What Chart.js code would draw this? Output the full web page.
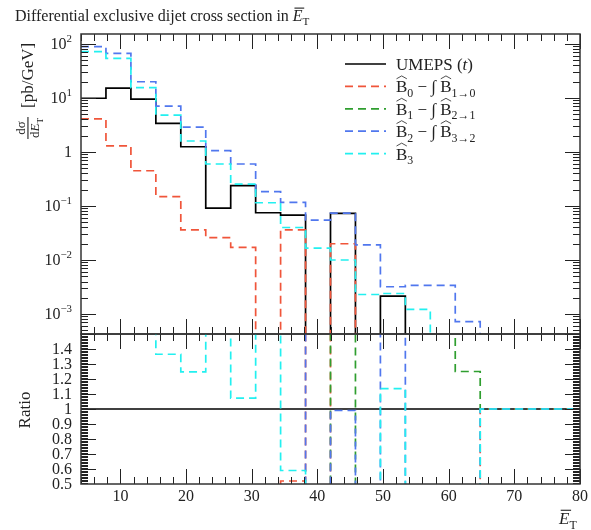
<!DOCTYPE html>
<html>
<head>
<meta charset="utf-8">
<script src="https://cdn.jsdelivr.net/npm/chart.js@4.4.1/dist/chart.umd.min.js"></script>
<style>
  html, body { margin: 0; padding: 0; background: #fff; }
  #wrap { position: relative; width: 591px; height: 530px; }
  #wrap canvas { position: absolute; left: 0; top: 0; }
</style>
</head>
<body>
<div id="wrap">
  <canvas id="main" width="591" height="530"></canvas>
  <canvas id="ratio" width="591" height="530"></canvas>
</div>
<script>
// bin edges in E_T (GeV)
const binEdges = [4, 7.8, 11.6, 15.4, 19.2, 23, 26.8, 30.6, 34.4, 38.2, 42,
                  45.8, 49.6, 53.4, 57.2, 61, 64.8, 68.6, 72.4, 76.2, 80];

// dsigma/dE_T [pb/GeV], one value per bin (0 = empty bin)
const umeps = [9.9, 15.2, 9.5, 3.4, 1.25, 0.091, 0.238, 0.075, 0.068, 0,
               0.073, 0, 0.00215, 0, 0, 0, 0, 0, 0, 0];
const b0 = [4.1, 1.3, 0.45, 0.149, 0.036, 0.026, 0.0172, 0, 0.036, 0,
            0.020, 0, 0, 0, 0, 0, 0, 0, 0, 0];
const b1 = [0, 0, 0, 0, 0, 0, 0, 0, 0, 0, 0, 0, 0, 0, 0, 0, 0, 0, 0, 0];
const b2 = [89, 67, 20, 7.1, 2.9, 1.06, 0.6, 0.184, 0.117, 0.055,
            0.074, 0.019, 0.0032, 0.0034, 0.0034, 0.00072, 0, 0, 0, 0];
const b3 = [72, 54, 15.5, 4.8, 1.6, 0.6, 0.255, 0.115, 0.040, 0.0166,
            0.010, 0.0023, 0.0024, 0.00122, 0, 0, 0, 0, 0, 0];

// ratio panel (2 = above the panel, 0 = below it)
const ratioUmeps = [1, 1, 1, 1, 1, 1, 1, 1, 1, 1, 1, 1, 1, 1, 1, 1, 1, 1, 1, 1];
const ratioB0 = [0, 0, 0, 0, 0, 0, 0, 0, 0.52, 2, 0, 0, 0, 0, 0, 0, 1, 1, 1, 1];
const ratioB1 = [0, 0, 0, 0, 0, 0, 0, 0, 0, 0, 2, 0, null, null, 2, 1.25, 1, 1, 1, 1];
const ratioB2 = [2, 2, 2, 2, 2, 2, 2, 2, 2, 0, 0.99, 0, 2, 0, 0, 0, 1, 1, 1, 1];
const ratioB3 = [2, 2, 2, 1.365, 1.247, 2, 1.073, 2, 0.59, 0, 0, 0, 1.136, 0, 0, 0, 1, 1, 1, 1];

const xTickLabels = [10, 20, 30, 40, 50, 60, 70, 80];
const ratioTickLabels = [0.5, 0.6, 0.7, 0.8, 0.9, 1, 1.1, 1.2, 1.3, 1.4];
const seriesLabels = ['UMEPS (t)', 'B̂0 − ∫ B̂1→0', 'B̂1 − ∫ B̂2→1', 'B̂2 − ∫ B̂3→2', 'B̂3'];

const SERIF = '"Liberation Serif", "DejaVu Serif", serif';
const INK = '#222';
const RED = '#f0553a';
const GREEN = '#2f9e2f';
const BLUE = '#5077ee';
const CYAN = '#22f0f0';
const DASH = [8, 5];

const Y_MAX = Math.pow(10, 2.185);
const Y_MIN = Math.pow(10, -3.37);

function hist(values, floor) {
  const pts = values.map((v, i) => ({ x: binEdges[i], y: v === null ? null : (v > 0 ? v : floor) }));
  pts.push({ x: binEdges[binEdges.length - 1], y: pts[pts.length - 1].y });
  return pts;
}

function ds(label, values, color, dash, order, floor) {
  return {
    label: label,
    data: hist(values, floor),
    borderColor: color,
    borderWidth: 1.7,
    borderDash: dash,
    stepped: 'before',
    pointRadius: 0,
    fill: false,
    spanGaps: false,
    clip: 0,
    order: order
  };
}

function fontOf(size, italic) {
  return (italic ? 'italic ' : '') + size + 'px ' + SERIF;
}

// draws a list of text runs (sub/superscripts, hats, bars) and returns end x
function drawRuns(ctx, x, y, runs, base, measureOnly) {
  for (const r of runs) {
    const size = r.sub ? base * 0.7 : (r.sup ? base * 0.68 : base);
    const dy = r.sub ? base * 0.27 : (r.sup ? -base * 0.42 : 0);
    ctx.font = fontOf(size, r.italic);
    const w = ctx.measureText(r.t).width;
    if (!measureOnly) {
      ctx.fillText(r.t, x, y + dy);
      if (r.hat) {
        const t = y - base * 0.8;
        ctx.beginPath();
        ctx.moveTo(x + 0.5, t);
        ctx.lineTo(x + w / 2, t - base * 0.17);
        ctx.lineTo(x + w - 0.5, t);
        ctx.lineWidth = 0.8;
        ctx.strokeStyle = ctx.fillStyle;
        ctx.stroke();
      }
      if (r.bar) {
        ctx.fillRect(x + base * 0.1, y - base * 0.84, w, 1.1);
      }
    }
    x += w;
  }
  return x;
}

const Ebar = [{ t: 'E', italic: true, bar: true }, { t: 'T', sub: true }];

const frameTicks = {
  id: 'frameTicks',
  afterDatasetsDraw(chart, args, opts) {
    const { ctx, chartArea: a, scales } = chart;
    const xs = scales.x, ys = scales.y;
    ctx.save();
    ctx.strokeStyle = INK;
    ctx.lineWidth = 1;
    const seg = (x1, y1, x2, y2) => { ctx.beginPath(); ctx.moveTo(x1, y1); ctx.lineTo(x2, y2); ctx.stroke(); };
    for (let v = 4; v <= 80; v += 2) {
      const len = v % 10 === 0 ? 15 : 7;
      const px = Math.round(xs.getPixelForValue(v)) + 0.5;
      seg(px, a.top, px, a.top + len);
      seg(px, a.bottom, px, a.bottom - len);
    }
    opts.yTicks.forEach(([v, len]) => {
      const py = Math.round(ys.getPixelForValue(v)) + 0.5;
      if (py < a.top || py > a.bottom) return;
      seg(a.left, py, a.left + len, py);
      seg(a.right, py, a.right - len, py);
    });
    ctx.lineWidth = 1.5;
    ctx.strokeStyle = '#333';
    ctx.strokeRect(a.left, a.top, a.right - a.left, a.bottom - a.top);
    ctx.restore();
  }
};

// main-panel texts: title, y axis, legend
const mainText = {
  id: 'mainText',
  afterDraw(chart) {
    const { ctx, chartArea: a, scales } = chart;
    const ys = scales.y;
    ctx.save();
    ctx.fillStyle = INK;
    ctx.textBaseline = 'alphabetic';
    ctx.textAlign = 'left';

    // title
    drawRuns(ctx, 15, 21, [{ t: 'Differential exclusive dijet cross section in ' }].concat(Ebar), 16);

    // y tick labels (powers of ten)
    for (let k = -3; k <= 2; k++) {
      const py = ys.getPixelForValue(Math.pow(10, k));
      const runs = k === 0 ? [{ t: '1' }] : [{ t: '10' }, { t: k < 0 ? '\u2212' + (-k) : String(k), sup: true }];
      const w = drawRuns(ctx, 0, 0, runs, 16, true);
      drawRuns(ctx, 72 - w, py + 5, runs, 16);
    }

    // y axis title, rotated
    ctx.save();
    ctx.translate(28, 139);
    ctx.rotate(-Math.PI / 2);
    ctx.textAlign = 'center';
    ctx.font = fontOf(13, false);
    ctx.fillText('d\u03c3', 11, -3);
    ctx.fillRect(0, -0.6, 22, 1.1);
    ctx.textAlign = 'left';
    drawRuns(ctx, 1, 11, [{ t: 'd' }, { t: 'E', italic: true }, { t: 'T', sub: true }], 13);
    ctx.font = fontOf(17, false);
    ctx.fillText('[pb/GeV]', 31, 5);
    ctx.restore();

    // legend
    const rows = [
      { color: '#000', dash: [], runs: [{ t: 'UMEPS (' }, { t: 't', italic: true }, { t: ')' }] },
      { color: RED, dash: DASH, runs: [{ t: 'B', hat: true }, { t: '0', sub: true }, { t: ' \u2212 \u222b ' }, { t: 'B', hat: true }, { t: '1\u21920', sub: true }] },
      { color: GREEN, dash: DASH, runs: [{ t: 'B', hat: true }, { t: '1', sub: true }, { t: ' \u2212 \u222b ' }, { t: 'B', hat: true }, { t: '2\u21921', sub: true }] },
      { color: BLUE, dash: DASH, runs: [{ t: 'B', hat: true }, { t: '2', sub: true }, { t: ' \u2212 \u222b ' }, { t: 'B', hat: true }, { t: '3\u21922', sub: true }] },
      { color: CYAN, dash: DASH, runs: [{ t: 'B', hat: true }, { t: '3', sub: true }] }
    ];
    rows.forEach((r, i) => {
      const y = 64 + i * 22.4;
      ctx.beginPath();
      ctx.moveTo(345, y);
      ctx.lineTo(386, y);
      ctx.strokeStyle = r.color;
      ctx.lineWidth = 1.7;
      ctx.setLineDash(r.dash);
      ctx.stroke();
      ctx.setLineDash([]);
      ctx.fillStyle = INK;
      drawRuns(ctx, 396, y + 6, r.runs, 17);
    });
    ctx.restore();
  }
};

const ratioText = {
  id: 'ratioText',
  afterDraw(chart) {
    const { ctx, chartArea: a, scales } = chart;
    ctx.save();
    ctx.fillStyle = INK;
    ctx.font = fontOf(16, false);
    ctx.textAlign = 'right';
    ctx.textBaseline = 'middle';
    ratioTickLabels.forEach(v => {
      ctx.fillText(String(v), 72, scales.y.getPixelForValue(v) + 1);
    });
    ctx.textAlign = 'center';
    xTickLabels.forEach(v => {
      ctx.fillText(String(v), scales.x.getPixelForValue(v), a.bottom + 13);
    });
    // x axis title
    ctx.textAlign = 'left';
    ctx.textBaseline = 'alphabetic';
    drawRuns(ctx, 559, 524, Ebar, 17);
    // y axis title
    ctx.save();
    ctx.translate(30, (a.top + a.bottom) / 2 + 1);
    ctx.rotate(-Math.PI / 2);
    ctx.textAlign = 'center';
    ctx.font = fontOf(17, false);
    ctx.fillText('Ratio', 0, 0);
    ctx.restore();
    ctx.restore();
  }
};

const mainYTicks = [];
for (let k = -4; k <= 2; k++) {
  for (let d = 1; d <= 9; d++) mainYTicks.push([d * Math.pow(10, k), d === 1 ? 15 : 7]);
}
const ratioYTicks = [];
for (let i = 50; i <= 150; i++) ratioYTicks.push([i / 100, i % 10 === 0 ? 15 : 7]);

new Chart(document.getElementById('main'), {
  type: 'line',
  data: {
    datasets: [
      ds(seriesLabels[0], umeps, '#000', [], 5, 1e-9),
      ds(seriesLabels[1], b0, RED, DASH, 4, 1e-9),
      ds(seriesLabels[2], b1, GREEN, DASH, 3, 1e-9),
      ds(seriesLabels[3], b2, BLUE, DASH, 2, 1e-9),
      ds(seriesLabels[4], b3, CYAN, DASH, 1, 1e-9)
    ]
  },
  options: {
    responsive: false,
    animation: false,
    events: [],
    layout: { padding: { left: 81, right: 11, top: 34, bottom: 196 } },
    scales: {
      x: { type: 'linear', min: 4, max: 80, display: false },
      y: { type: 'logarithmic', min: Y_MIN, max: Y_MAX, display: false }
    },
    plugins: {
      legend: { display: false },
      tooltip: { enabled: false },
      frameTicks: { yTicks: mainYTicks }
    }
  },
  plugins: [frameTicks, mainText]
});

new Chart(document.getElementById('ratio'), {
  type: 'line',
  data: {
    datasets: [
      ds(seriesLabels[0], ratioUmeps, '#000', [], 5, 0),
      ds(seriesLabels[1], ratioB0, RED, DASH, 4, 0),
      ds(seriesLabels[2], ratioB1, GREEN, DASH, 3, 0),
      ds(seriesLabels[3], ratioB2, BLUE, DASH, 2, 0),
      ds(seriesLabels[4], ratioB3, CYAN, DASH, 1, 0)
    ]
  },
  options: {
    responsive: false,
    animation: false,
    events: [],
    layout: { padding: { left: 81, right: 11, top: 334, bottom: 46 } },
    scales: {
      x: { type: 'linear', min: 4, max: 80, display: false },
      y: { type: 'linear', min: 0.5, max: 1.5, display: false }
    },
    plugins: {
      legend: { display: false },
      tooltip: { enabled: false },
      frameTicks: { yTicks: ratioYTicks }
    }
  },
  plugins: [frameTicks, ratioText]
});
</script>
</body>
</html>
